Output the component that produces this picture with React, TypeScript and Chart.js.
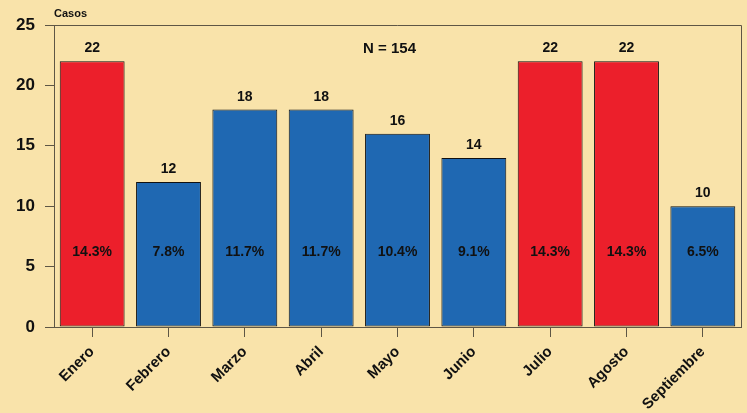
import React, { useEffect, useRef } from "react";
import { Chart, registerables } from "chart.js";

Chart.register(...registerables);

const months = ["Enero", "Febrero", "Marzo", "Abril", "Mayo", "Junio", "Julio", "Agosto", "Septiembre"];
const cases = [22, 12, 18, 18, 16, 14, 22, 22, 10];
const percentLabels = ["14.3%", "7.8%", "11.7%", "11.7%", "10.4%", "9.1%", "14.3%", "14.3%", "6.5%"];
const highlighted = [true, false, false, false, false, false, true, true, false];
const yTicks = [0, 5, 10, 15, 20, 25];
const totalLabel = "N = 154";
const yTitle = "Casos";

const BG = "#F9E3AA";
const RED = "#EC1F2B";
const BLUE = "#1F68B2";
const AXIS = "#5E5645";
const FONT = "'Liberation Sans', Arial, Helvetica, sans-serif";

export default function App() {
  const ref = useRef<HTMLCanvasElement | null>(null);

  useEffect(() => {
    if (!ref.current) return;
    const overlay = {
      id: "overlay",
      beforeDraw(chart: any) {
        const { ctx, width, height } = chart;
        ctx.save();
        ctx.fillStyle = BG;
        ctx.fillRect(0, 0, width, height);
        ctx.restore();
      },
      afterDraw(chart: any) {
        const { ctx, chartArea } = chart;
        const x = chart.scales.x;
        const y = chart.scales.y;
        ctx.save();
        ctx.strokeStyle = AXIS;
        ctx.lineWidth = 1;
        ctx.beginPath();
        ctx.moveTo(chartArea.left, Math.round(chartArea.top) + 0.5);
        ctx.lineTo(Math.round(chartArea.right) + 0.5, Math.round(chartArea.top) + 0.5);
        ctx.lineTo(Math.round(chartArea.right) + 0.5, chartArea.bottom);
        ctx.stroke();

        ctx.fillStyle = "#111";
        ctx.textAlign = "center";
        ctx.textBaseline = "alphabetic";
        ctx.font = `bold 14px ${FONT}`;
        cases.forEach((v, i) => {
          const px = x.getPixelForValue(i);
          ctx.fillText(String(v), px, y.getPixelForValue(v) - 9);
        });
        ctx.textBaseline = "middle";
        percentLabels.forEach((p, i) => {
          const px = x.getPixelForValue(i);
          ctx.fillText(p, px, y.getPixelForValue(6.2));
        });
        ctx.font = `bold 15px ${FONT}`;
        ctx.fillText(totalLabel, x.getPixelForValue(4) - 8, y.getPixelForValue(23.05));
        ctx.font = `bold 11px ${FONT}`;
        ctx.textAlign = "left";
        ctx.fillText(yTitle, chartArea.left, 14);
        ctx.restore();
      },
    };

    const chart = new Chart(ref.current, {
      type: "bar",
      data: {
        labels: months,
        datasets: [
          {
            data: cases,
            backgroundColor: highlighted.map((h) => (h ? RED : BLUE)),
            borderColor: "#111",
            borderWidth: 1,
            borderSkipped: false,
            barPercentage: 0.85,
            categoryPercentage: 1,
          },
        ],
      },
      options: {
        animation: false,
        responsive: false,
        maintainAspectRatio: false,
        layout: { padding: { top: 25, right: 6, left: 0, bottom: 0 } },
        plugins: { legend: { display: false }, tooltip: { enabled: false } },
        scales: {
          x: {
            grid: {
              offset: false,
              drawOnChartArea: false,
              drawTicks: true,
              tickLength: 10,
              color: AXIS,
            },
            border: { display: true, color: AXIS },
            ticks: {
              minRotation: 45,
              maxRotation: 45,
              color: "#111",
              font: { family: FONT, size: 15, weight: "bold" },
              padding: 6,
            },
            afterFit(scale: any) {
              scale.height = 86;
            },
          },
          y: {
            min: 0,
            max: 25,
            afterBuildTicks(scale: any) {
              scale.ticks = yTicks.map((v) => ({ value: v }));
            },
            grid: {
              drawOnChartArea: false,
              drawTicks: true,
              tickLength: 9,
              color: AXIS,
            },
            border: { display: true, color: AXIS },
            ticks: {
              color: "#111",
              font: { family: FONT, size: 17, weight: "bold" },
              padding: 10,
            },
            afterFit(scale: any) {
              scale.width = 54;
            },
          },
        },
      },
      plugins: [overlay],
    });
    return () => chart.destroy();
  }, []);

  return (
    <div style={{ position: "fixed", left: 0, top: 0, width: 747, height: 413, background: BG }}>
      <canvas ref={ref} width={747} height={413} style={{ display: "block", width: 747, height: 413 }} />
    </div>
  );
}
